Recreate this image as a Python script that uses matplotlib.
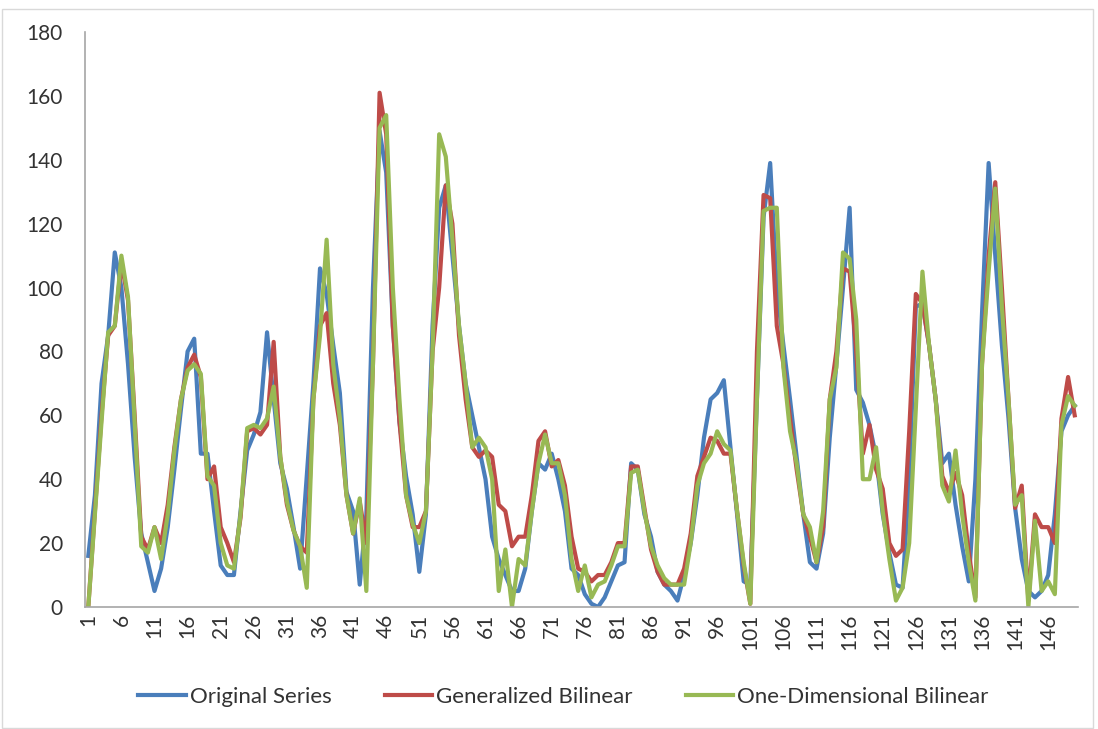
import numpy as np
import matplotlib
matplotlib.use("Agg")
import matplotlib.pyplot as plt
from matplotlib.patches import Rectangle

plt.rcParams['font.family'] = ['Lato', 'DejaVu Sans']

# values (points 1..150)
original = [16, 35, 70, 85, 111, 100, 76, 47, 23, 14,
            5, 12, 25, 43, 62, 80, 84, 48, 48, 30,
            13, 10, 10, 30, 49, 54, 61, 86, 65, 45,
            37, 25, 12, 41, 70, 106, 98, 82, 67, 36,
            30, 7, 29, 100, 149, 136, 88, 58, 41, 29,
            11, 29, 88, 125, 132, 110, 88, 70, 60, 50,
            40, 22, 15, 10, 5, 5, 12, 30, 45, 43,
            48, 40, 30, 12, 10, 4, 1, 0, 3, 8,
            13, 14, 45, 43, 29, 22, 11, 7, 5, 2,
            10, 20, 35, 53, 65, 67, 71, 50, 29, 8,
            7, 65, 122, 139, 100, 82, 65, 47, 29, 14,
            12, 23, 53, 76, 100, 125, 68, 64, 57, 47,
            29, 17, 7, 6, 40, 94, 95, 82, 65, 45,
            48, 32, 19, 8, 40, 92, 139, 110, 82, 59,
            31, 15, 5, 3, 5, 10, 29, 55, 60, 63]

gen_bilinear = [0, 30, 60, 85, 88, 108, 96, 60, 22, 18,
                25, 20, 32, 50, 65, 75, 79, 72, 40, 44,
                25, 20, 14, 28, 55, 56, 54, 57, 83, 47,
                32, 24, 19, 17, 65, 88, 92, 70, 57, 35,
                23, 33, 20, 76, 161, 148, 88, 58, 35, 25,
                25, 30, 80, 100, 132, 120, 85, 65, 50, 47,
                49, 47, 32, 30, 19, 22, 22, 35, 52, 55,
                44, 46, 38, 22, 12, 11, 8, 10, 10, 14,
                20, 20, 44, 44, 31, 18, 11, 7, 7, 7,
                12, 23, 41, 47, 53, 52, 48, 48, 30, 13,
                1, 80, 129, 128, 88, 76, 59, 43, 29, 22,
                14, 25, 65, 80, 106, 105, 80, 48, 57, 43,
                37, 20, 16, 18, 55, 98, 95, 82, 65, 41,
                36, 42, 35, 17, 3, 76, 110, 133, 100, 65,
                31, 38, 2, 29, 25, 25, 20, 59, 72, 60]

one_dim_bilinear = [0, 29, 58, 86, 88, 110, 97, 58, 19, 17,
                    25, 15, 29, 49, 65, 74, 76, 73, 41, 38,
                    20, 13, 12, 29, 56, 57, 56, 59, 69, 47,
                    33, 24, 19, 6, 65, 85, 115, 76, 59, 35,
                    23, 34, 5, 76, 150, 154, 100, 65, 35, 26,
                    20, 30, 80, 148, 141, 115, 88, 70, 50, 53,
                    50, 40, 5, 18, 0, 15, 13, 30, 45, 54,
                    45, 45, 35, 15, 5, 13, 3, 7, 8, 13,
                    19, 19, 42, 43, 30, 19, 13, 9, 7, 7,
                    7, 20, 38, 45, 48, 55, 51, 49, 30, 14,
                    1, 65, 124, 125, 125, 75, 55, 45, 29, 25,
                    14, 30, 65, 75, 111, 109, 90, 40, 40, 50,
                    30, 15, 2, 6, 20, 62, 105, 82, 65, 38,
                    33, 49, 29, 14, 2, 76, 105, 131, 94, 65,
                    32, 35, 0, 27, 5, 8, 4, 57, 66, 63]

x = np.arange(1, len(original) + 1)
tick_pos = np.arange(1, 150, 5)

fig = plt.figure(figsize=(10.98, 7.29), dpi=100)
ax = fig.add_axes([0.0774, 0.1674, 0.9044, 0.7886])

ax.plot(x, original, color='#4A7EBB', lw=3.0, label='Original Series', solid_joinstyle='round')
ax.plot(x, gen_bilinear, color='#BE4B48', lw=3.0, label='Generalized Bilinear', solid_joinstyle='round')
ax.plot(x, one_dim_bilinear, color='#98B954', lw=3.0, label='One-Dimensional Bilinear', solid_joinstyle='round')

ax.set_xlim(0.5, 150.5)
ax.set_ylim(0, 180)
ax.set_yticks(np.arange(0, 181, 20))
ax.set_xticks(tick_pos)
ax.set_xticklabels([str(t) for t in tick_pos], rotation=90)
ax.tick_params(axis='y', length=0, pad=16, labelsize=15, colors='#333333')
ax.tick_params(axis='x', length=0, pad=5, labelsize=15, colors='#333333')
for s in ['top', 'right']:
    ax.spines[s].set_visible(False)
for s in ['left', 'bottom']:
    ax.spines[s].set_color('#A6A6A6')
    ax.spines[s].set_linewidth(1.2)

leg = fig.legend(loc='center', bbox_to_anchor=(0.513, 0.044), ncol=3, frameon=False,
                 fontsize=16, handlelength=2.15, columnspacing=2.4, handletextpad=0.15)
for t in leg.get_texts():
    t.set_color('#333333')

fig.patches.append(Rectangle((0.002, 0.002), 0.993, 0.985, transform=fig.transFigure,
                             fill=False, edgecolor='#D9D9D9', lw=1))

fig.savefig('out.png', dpi=100)
